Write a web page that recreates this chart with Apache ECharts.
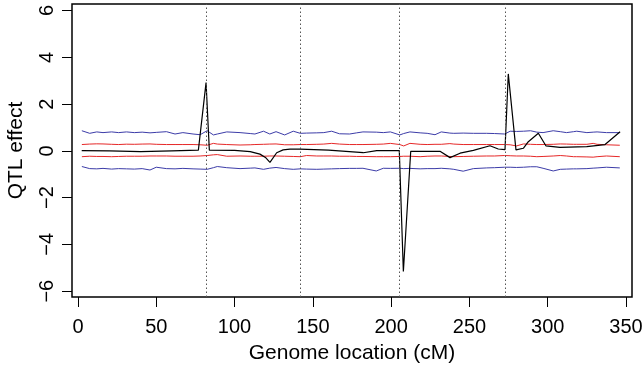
<!DOCTYPE html>
<html>
<head>
<meta charset="utf-8">
<script src="https://cdn.jsdelivr.net/npm/echarts@6/dist/echarts.min.js"></script>
<style>
  html, body { margin: 0; padding: 0; background: #fff; }
  #chart { width: 644px; height: 366px; }
</style>
</head>
<body>
<div id="chart"></div>
<script>
// tick labels
const xTicks = [0, 50, 100, 150, 200, 250, 300, 350];
const yTicks = [-6, -4, -2, 0, 2, 4, 6];

// chromosome boundaries (cM)
const boundaries = [81.8, 141.8, 205.4, 272.7];

// estimated QTL effect
const effectPos = [2.4, 20, 40, 60, 76.9, 81.8, 83.9, 100, 110, 116.2, 120, 122.6, 126.9, 131, 135.4, 141.8,
  160, 182.2, 190.8, 205.2, 207.8, 212.5, 231.2, 237.6, 244, 252.5, 263.1, 268.4, 272.7, 274.8,
  279.7, 284.4, 287.6, 294, 298.9, 307.8, 324.9, 336.6, 346.2];
const effect = [0.01, 0.0, -0.03, 0.0, 0.03, 2.92, 0.03, 0.02, -0.03, -0.14, -0.3, -0.49, -0.08, 0.04, 0.07, 0.07,
  0.03, -0.08, 0.01, 0.01, -5.16, -0.02, -0.02, -0.29, -0.1, 0.02, 0.22, 0.08, 0.05, 3.29,
  0.04, 0.11, 0.39, 0.75, 0.21, 0.15, 0.18, 0.27, 0.82];

// threshold curves, shared positions
const threshPos = [2.5, 7.5, 12, 16, 21.5, 26, 31, 36, 41, 46, 50, 56.5, 62, 67, 73.5, 78, 82.5, 86.5, 89, 95,
  103.5, 110, 113, 118.5, 122.5, 126.5, 132, 137.5, 142, 146, 152.5, 157, 162, 167, 173.5, 178, 182, 190.5, 195, 199.5,
  205.5, 208, 212, 218.5, 223, 228, 232, 237.5, 240, 246, 252.5, 261, 266, 272.5, 276, 280, 284.5, 289, 293, 297,
  303.5, 308, 312, 316.5, 318.5, 325, 329, 331.5, 337.5, 346];
const blueUpper = [0.86, 0.75, 0.81, 0.78, 0.81, 0.78, 0.81, 0.78, 0.80, 0.77, 0.79, 0.82, 0.72, 0.78, 0.72, 0.69, 0.86, 0.68, 0.72, 0.81,
  0.78, 0.74, 0.72, 0.84, 0.72, 0.82, 0.68, 0.84, 0.75, 0.76, 0.77, 0.78, 0.84, 0.73, 0.72, 0.77, 0.81, 0.80, 0.78, 0.81,
  0.68, 0.74, 0.81, 0.77, 0.75, 0.69, 0.81, 0.76, 0.75, 0.76, 0.75, 0.75, 0.74, 0.72, 0.84, 0.83, 0.84, 0.86, 0.80, 0.78,
  0.86, 0.82, 0.78, 0.82, 0.84, 0.78, 0.80, 0.81, 0.78, 0.78];
const blueLower = [-0.67, -0.76, -0.77, -0.75, -0.78, -0.76, -0.77, -0.78, -0.76, -0.82, -0.70, -0.76, -0.77, -0.75, -0.77, -0.78, -0.79, -0.72, -0.67, -0.72,
  -0.76, -0.74, -0.73, -0.79, -0.74, -0.71, -0.76, -0.79, -0.77, -0.78, -0.79, -0.78, -0.77, -0.76, -0.75, -0.75, -0.745, -0.86, -0.745, -0.75,
  -0.745, -0.76, -0.75, -0.77, -0.76, -0.76, -0.745, -0.77, -0.79, -0.87, -0.76, -0.73, -0.72, -0.70, -0.70, -0.71, -0.70, -0.68, -0.68, -0.745,
  -0.86, -0.79, -0.78, -0.77, -0.77, -0.76, -0.74, -0.73, -0.70, -0.73];
const redUpper = [0.27, 0.29, 0.30, 0.295, 0.28, 0.27, 0.285, 0.28, 0.29, 0.295, 0.28, 0.27, 0.27, 0.27, 0.27, 0.26, 0.24, 0.32, 0.29, 0.27,
  0.25, 0.26, 0.27, 0.28, 0.29, 0.295, 0.26, 0.26, 0.27, 0.27, 0.28, 0.29, 0.32, 0.29, 0.27, 0.27, 0.27, 0.28, 0.29, 0.32,
  0.27, 0.21, 0.32, 0.28, 0.27, 0.28, 0.28, 0.31, 0.29, 0.27, 0.27, 0.27, 0.27, 0.27, 0.26, 0.21, 0.295, 0.28, 0.27, 0.27,
  0.28, 0.295, 0.29, 0.28, 0.28, 0.28, 0.32, 0.28, 0.26, 0.24];
const redLower = [-0.25, -0.23, -0.24, -0.24, -0.25, -0.24, -0.23, -0.23, -0.23, -0.22, -0.22, -0.22, -0.23, -0.23, -0.23, -0.22, -0.20, -0.17, -0.16, -0.23,
  -0.22, -0.23, -0.23, -0.23, -0.22, -0.22, -0.23, -0.24, -0.25, -0.20, -0.22, -0.22, -0.22, -0.23, -0.23, -0.24, -0.24, -0.25, -0.25, -0.25,
  -0.24, -0.23, -0.23, -0.25, -0.23, -0.22, -0.22, -0.24, -0.25, -0.24, -0.23, -0.22, -0.22, -0.20, -0.21, -0.22, -0.22, -0.23, -0.25, -0.24,
  -0.22, -0.20, -0.22, -0.25, -0.25, -0.26, -0.27, -0.25, -0.22, -0.25];

const font = "'Liberation Sans', Arial, Helvetica, sans-serif";
const minus = (v) => String(v).replace("-", "\u2212");
const pairs = (xs, ys) => xs.map((x, i) => [x, ys[i]]);

const lineSeries = (data, color, width, z) => ({
  type: "line",
  data: data,
  showSymbol: false,
  symbol: "none",
  lineStyle: { color: color, width: width },
  z: z,
  silent: true,
});

const chart = echarts.init(document.getElementById("chart"), null, { renderer: "canvas" });

const option = {
  animation: false,
  backgroundColor: "#fff",
  grid: {
    left: 72,
    right: 12,
    top: 4,
    bottom: 69,
    outerBoundsMode: "none",
    containLabel: false,
    show: true,
    borderColor: "#000",
    borderWidth: 1.5,
    backgroundColor: "transparent",
  },
  xAxis: {
    type: "value",
    min: -3.8,
    max: 353.8,
    axisLine: { show: false, onZero: false },
    splitLine: { show: false },
    axisTick: {
      show: true,
      length: 10,
      customValues: xTicks,
      lineStyle: { color: "#000", width: 1 },
    },
    axisLabel: {
      customValues: xTicks,
      margin: 20,
      fontSize: 20,
      color: "#000",
      fontFamily: font,
    },
    name: "Genome location (cM)",
    nameLocation: "middle",
    nameGap: 46,
    nameTextStyle: { fontSize: 21, color: "#000", fontFamily: font },
  },
  yAxis: {
    type: "value",
    min: -6.25,
    max: 6.28,
    axisLine: { show: false, onZero: false },
    splitLine: { show: false },
    axisTick: {
      show: true,
      length: 10,
      customValues: yTicks,
      lineStyle: { color: "#000", width: 1 },
    },
    axisLabel: {
      customValues: yTicks,
      rotate: 90,
      margin: 15,
      fontSize: 20,
      color: "#000",
      fontFamily: font,
      formatter: minus,
    },
    name: "QTL effect",
    nameLocation: "middle",
    nameGap: 45,
    nameRotate: 90,
    nameTextStyle: { fontSize: 21, color: "#000", fontFamily: font },
  },
  series: [
    Object.assign(lineSeries(pairs(threshPos, blueUpper), "#3c3ca8", 1, 2), {
      markLine: {
        silent: true,
        symbol: "none",
        label: { show: false },
        lineStyle: { color: "#555", width: 1, type: [1.5, 2.5] },
        data: boundaries.map((b) => ({ xAxis: b })),
      },
    }),
    lineSeries(pairs(threshPos, blueLower), "#3c3ca8", 1, 2),
    lineSeries(pairs(threshPos, redUpper), "#e62828", 1, 3),
    lineSeries(pairs(threshPos, redLower), "#e62828", 1, 3),
    lineSeries(pairs(effectPos, effect), "#000", 1.2, 4),
  ],
};

chart.setOption(option);
</script>
</body>
</html>
